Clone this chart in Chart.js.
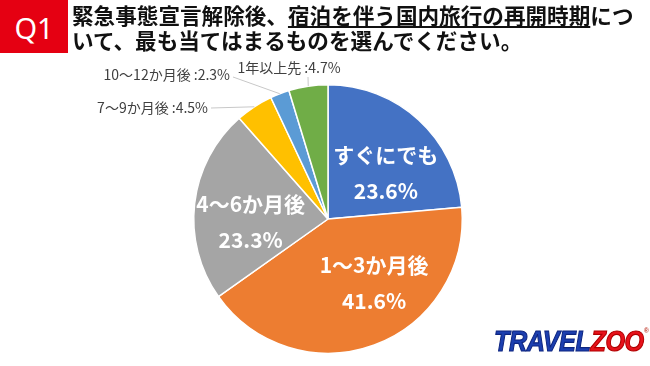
<!DOCTYPE html>
<html><head><meta charset="utf-8">
<script src="https://cdn.jsdelivr.net/npm/chart.js@4"></script>
<style>
html,body{margin:0;padding:0;background:#fff;width:650px;height:366px;overflow:hidden;font-family:"Noto Sans CJK JP","Noto Sans",sans-serif;}
#wrap{position:relative;width:650px;height:366px;}
#c{position:absolute;left:0;top:0;}
#q{position:absolute;left:0;top:0;width:68px;height:53px;background:#e50012;color:#fff;font-family:"Noto Sans","Liberation Sans",sans-serif;font-size:29px;line-height:55px;text-align:center;}
#t{position:absolute;left:72px;top:2px;font-size:21.6px;font-weight:bold;line-height:25px;color:#111;white-space:nowrap;}
#t u{text-decoration-thickness:1.5px;text-underline-offset:2px;}
#logo{position:absolute;left:494px;top:324px;font-family:"Liberation Sans Narrow","Liberation Sans",sans-serif;font-weight:bold;font-style:italic;font-size:30px;letter-spacing:-0.5px;transform:scaleX(0.84);transform-origin:left top;white-space:nowrap;}
#logo .a{color:#1c3fb0;-webkit-text-stroke:1.2px #0d2580;}
#logo .b{color:#e8121b;-webkit-text-stroke:1.2px #b00000;}
#logo sup{font-size:8px;color:#c0392b;vertical-align:top;position:relative;top:2px;}
</style></head>
<body><div id="wrap">
<canvas id="c" width="650" height="366"></canvas>
<div id="q">Q1</div>
<div id="t">緊急事態宣言解除後、<u>宿泊を伴う国内旅行の再開時期</u>につ<br>いて、最も当てはまるものを選んでください。</div>
<div id="logo"><span class="a">TRAVEL</span><span class="b">ZOO</span><sup>®</sup></div>
</div>
<script>
const categories = ["すぐにでも", "1〜3か月後", "4〜6か月後", "7〜9か月後", "10〜12か月後", "1年以上先"];
const values = [23.6, 41.6, 23.3, 4.5, 2.3, 4.7];
const valueLabels = ["23.6%", "41.6%", "23.3%", "4.5%", "2.3%", "4.7%"];
const colors = ["#4472C4", "#ED7D31", "#A5A5A5", "#FFC000", "#5B9BD5", "#70AD47"];

const innerCfg = [
  { r: 0.55, dx: 8, dy: 8 },
  { r: 0.52, dx: 22, dy: -2 },
  { r: 0.58, dx: 0, dy: 12 },
  null, null, null
];
const outerCfg = [
  null, null, null,
  { lx: 211, ly: 108, tx: 208, ty: 108, align: 'right' },
  { lx: 233, ly: 77, tx: 230, ty: 75, align: 'right' },
  { lx: 308, ly: 77, tx: 289, ty: 68, align: 'center' }
];

const labelPlugin = {
  id: 'sliceLabels',
  afterDatasetsDraw(chart) {
    const ctx = chart.ctx;
    const meta = chart.getDatasetMeta(0);
    meta.data.forEach((arc, i) => {
      const p = arc.getProps(['x','y','startAngle','endAngle','outerRadius'], true);
      const mid = (p.startAngle + p.endAngle) / 2;
      const inner = innerCfg[i];
      ctx.save();
      if (inner) {
        const r = p.outerRadius * inner.r;
        const cx = p.x + Math.cos(mid) * r + inner.dx;
        const cy = p.y + Math.sin(mid) * r + inner.dy;
        ctx.fillStyle = '#fff';
        ctx.font = 'bold 21px "Noto Sans CJK JP", sans-serif';
        ctx.textAlign = 'center';
        ctx.textBaseline = 'middle';
        ctx.fillText(categories[i], cx, cy - 18);
        ctx.fillText(valueLabels[i], cx, cy + 18);
      } else {
        const o = outerCfg[i];
        const ex = p.x + Math.cos(mid) * p.outerRadius;
        const ey = p.y + Math.sin(mid) * p.outerRadius;
        ctx.strokeStyle = '#c8c8c8';
        ctx.lineWidth = 1;
        ctx.beginPath();
        ctx.moveTo(ex, ey);
        ctx.lineTo(o.lx, o.ly);
        ctx.stroke();
        ctx.fillStyle = '#404040';
        ctx.font = '14px "Noto Sans CJK JP", sans-serif';
        ctx.textBaseline = 'middle';
        ctx.textAlign = o.align;
        ctx.fillText(categories[i] + ' :' + valueLabels[i], o.tx, o.ty);
      }
      ctx.restore();
    });
  }
};

new Chart(document.getElementById('c'), {
  type: 'pie',
  data: {
    labels: categories,
    datasets: [{
      data: values,
      backgroundColor: colors,
      borderColor: '#ffffff',
      borderWidth: 1.5
    }]
  },
  options: {
    responsive: false,
    animation: false,
    layout: { padding: { top: 84, bottom: 12, left: 193, right: 187 } },
    plugins: {
      legend: { display: false },
      tooltip: { enabled: false }
    }
  },
  plugins: [labelPlugin]
});
</script>
</body></html>
